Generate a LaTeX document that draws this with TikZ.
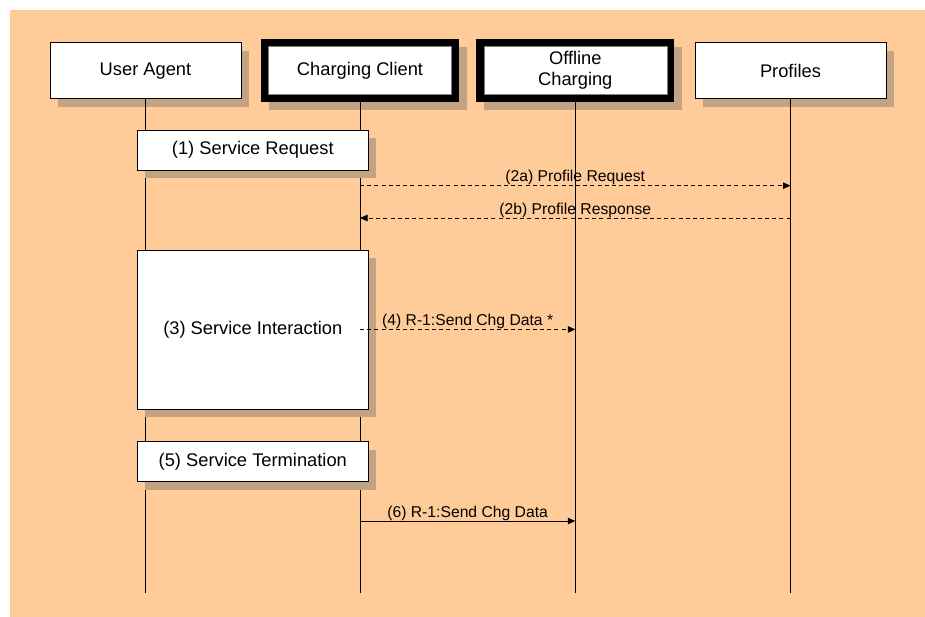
\documentclass[tikz,border=0pt]{standalone}
\usepackage{fontspec}
\setmainfont{Liberation Sans}
\usetikzlibrary{arrows.meta,shadows}
\definecolor{peach}{HTML}{FFCC99}
\definecolor{shade}{HTML}{C2A383}
\begin{document}
\begin{tikzpicture}[x=1pt,y=-1pt,
  boxfont/.style={font=\fontsize{18.3}{22}\selectfont},
  lblfont/.style={font=\fontsize{15.7}{18}\selectfont},
  shadowed/.style={general shadow={fill=shade, shadow xshift=8pt, shadow yshift=-8pt}},
  actor/.style={boxfont, draw, line width=1pt, fill=white, minimum width=191pt,
    minimum height=56.3pt, inner sep=0pt, align=center, shadowed},
  thickactor/.style={boxfont, fill=black, draw=none, minimum width=198pt,
    minimum height=63.3pt, inner sep=0pt, outer sep=0pt, align=center, shadowed,
    path picture={\filldraw[fill=white, draw=gray, line width=0.8pt]
      ([shift={(7.6,7.6)}]path picture bounding box.north west)
      rectangle ([shift={(-7.3,-7.3)}]path picture bounding box.south east);}},
  activity/.style={boxfont, draw, line width=1pt, fill=white, minimum width=231pt,
    inner sep=0pt, align=center, shadowed},
  lifeline/.style={line width=1pt},
  msg/.style={line width=1pt, -{Triangle[length=7.5pt,width=6.5pt]}},
  dmsg/.style={msg, dash pattern=on 4pt off 3.2pt},
  lbl/.style={lblfont, anchor=base, yshift=4pt, inner sep=0pt}
]
\useasboundingbox (0,0) rectangle (925,616);
\fill[peach] (10,10) rectangle (945,636);

% actors
\node[actor] (ua) at (145.5,70.8) {User Agent};
\node[thickactor] (cc) at (360,70.3) {Charging Client};
\node[thickactor] (oc) at (575.3,70.3) {Offline\\[-1pt]Charging};
\node[actor] (pr) at (790.5,70.8) {Profiles};

% lifeline ends
\coordinate (uaend) at (145.5,593);
\coordinate (ccend) at (360,593);
\coordinate (ocend) at (575.3,593);
\coordinate (prend) at (790.5,593);
\draw[lifeline] (ua.south) -- (uaend);
\draw[lifeline] (cc.south) -- (ccend);
\draw[lifeline] (oc.south) -- (ocend);
\draw[lifeline] (pr.south) -- (prend);

% activities
\node[activity, minimum height=40pt] (s1) at (252.8,150) {(1) Service Request};
\node[activity, minimum height=159.3pt] (s3) at (252.8,329.7) {(3) Service Interaction};
\node[activity, minimum height=40pt] (s5) at (252.8,461.7) {(5) Service Termination};

% message points
\coordinate (m2as) at (cc.south |- 0,185.7);
\coordinate (m2ae) at (pr.south |- 0,185.7);
\coordinate (m2bs) at (pr.south |- 0,218);
\coordinate (m2be) at (cc.south |- 0,218);
\coordinate (m4s) at (cc.south |- 0,329.4);
\coordinate (m4e) at (oc.south |- 0,329.4);
\coordinate (m6s) at (cc.south |- 0,521);
\coordinate (m6e) at (oc.south |- 0,521);

\draw[dmsg] (m2as) -- (m2ae) node[lbl, midway] (l2a) {(2a) Profile Request};
\draw[dmsg] (m2bs) -- (m2be) node[lbl, midway] (l2b) {(2b) Profile Response};
\draw[dmsg] (m4s) -- (m4e) node[lbl, midway] (l4) {(4) R-1:Send Chg Data *};
\draw[msg] (m6s) -- (m6e) node[lbl, midway] (l6) {(6) R-1:Send Chg Data};
\end{tikzpicture}
\end{document}
